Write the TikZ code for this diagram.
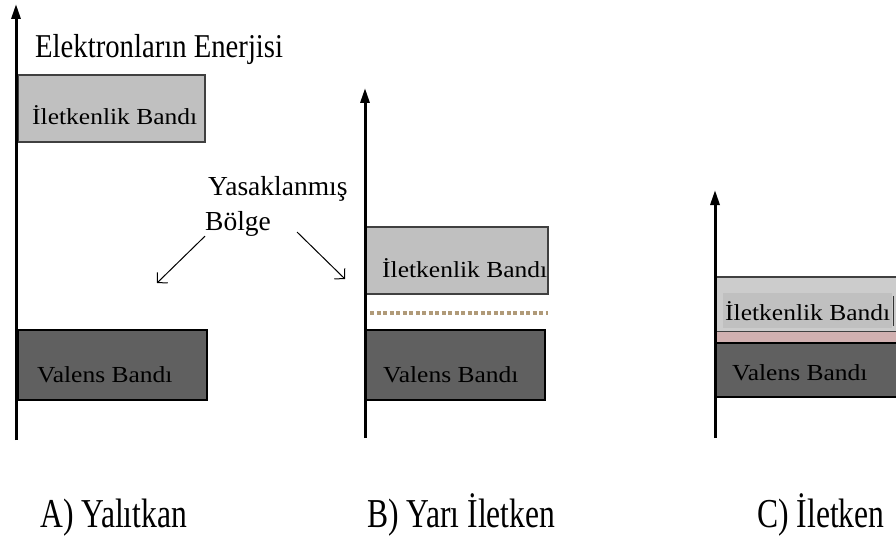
\documentclass[tikz,border=0pt]{standalone}
\usepackage{fontspec}
\setmainfont{Liberation Serif}
\usetikzlibrary{arrows.meta}

\definecolor{condgray}{HTML}{C0C0C0}
\definecolor{condlight}{HTML}{CCCCCC}
\definecolor{valgray}{HTML}{606060}
\definecolor{gapdots}{HTML}{B09A78}
\definecolor{overlap}{HTML}{D0B0B0}

\begin{document}
\begin{tikzpicture}[x=1pt,y=-1pt,
    axis/.style={line width=3pt, -{Triangle[length=15pt,width=9pt]}},
    condband/.style={fill=condgray, draw=black!75, line width=1.2pt},
    valband/.style={fill=valgray, draw=black, line width=2pt},
    bandtext/.style={anchor=base west, inner sep=0pt, font=\fontsize{25.5}{26}\selectfont},
    labeltext/.style={anchor=base west, inner sep=0pt, font=\fontsize{27.5}{28}\selectfont},
    caption/.style={anchor=base west, inner sep=0pt, font=\fontsize{31.6}{32}\selectfont},
    pointer/.style={line width=1pt, -{Straight Barb[length=7pt,width=15pt]}}]
  \useasboundingbox (0,0) rectangle (896,548);

  % A) Yalitkan
  \draw[condband] (18,75) rectangle (205,142);
  \draw[valband] (18,330) rectangle (207,400);
  \node[bandtext] (condA) at (32,125) {\scalebox{1}[0.9]{İletkenlik Bandı}};
  \node[bandtext] (valA) at (37,382) {\scalebox{1}[0.9]{Valens Bandı}};
  \coordinate (baseA) at (16,440);
  \coordinate (topA) at (16,4);
  \draw[axis] (baseA) -- (topA);
  \node[anchor=base west, inner sep=0pt, font=\fontsize{28.7}{29}\selectfont]
    (energy) at (35,58) {\scalebox{1}[1.16]{Elektronların Enerjisi}};

  % yasak bolge
  \node[labeltext] (forbid) at (208,195) {Yasaklanmış};
  \node[labeltext] (region) at (205,230) {Bölge};
  \coordinate (gapA) at (157,283);
  \coordinate (gapB) at (345,279);
  \coordinate (fromB) at (297,232);
  \draw[pointer] (region.south west) -- (gapA);
  \draw[pointer] (fromB) -- (gapB);

  % B) Yari iletken
  \draw[condband] (366,227) rectangle (548,294);
  \draw[valband] (366,330) rectangle (545,400);
  \draw[gapdots, line width=4pt, dash pattern=on 4pt off 2.5pt] (370,313) -- (548,313);
  \node[bandtext] (condB) at (382,277) {\scalebox{1}[0.9]{İletkenlik Bandı}};
  \node[bandtext] (valB) at (383,382) {\scalebox{1}[0.9]{Valens Bandı}};
  \coordinate (baseB) at (365,438);
  \coordinate (topB) at (365,88);
  \draw[axis] (baseB) -- (topB);

  % C) Iletken
  \draw[fill=condlight, draw=black!75, line width=1.2pt] (716,277) rectangle (900,332);
  \fill[condgray] (723,293) rectangle (892,328);
  \draw[black!80, line width=1pt] (893,296) -- (893,326);
  \fill[overlap] (716,332) rectangle (900,343);
  \draw[valband] (716,343) rectangle (900,397);
  \node[bandtext] (condC) at (725,320) {\scalebox{1}[0.9]{İletkenlik Bandı}};
  \node[bandtext] (valC) at (732,380) {\scalebox{1}[0.9]{Valens Bandı}};
  \coordinate (baseC) at (715,438);
  \coordinate (topC) at (715,190);
  \draw[axis] (baseC) -- (topC);

  % alt yazilar
  \node[caption] (capA) at (40,527) {\scalebox{1}[1.3]{A) Yalıtkan}};
  \node[caption] (capB) at (367,527) {\scalebox{1}[1.3]{B) Yarı İletken}};
  \node[caption] (capC) at (757,527) {\scalebox{1}[1.3]{C) İletken}};
\end{tikzpicture}
\end{document}
